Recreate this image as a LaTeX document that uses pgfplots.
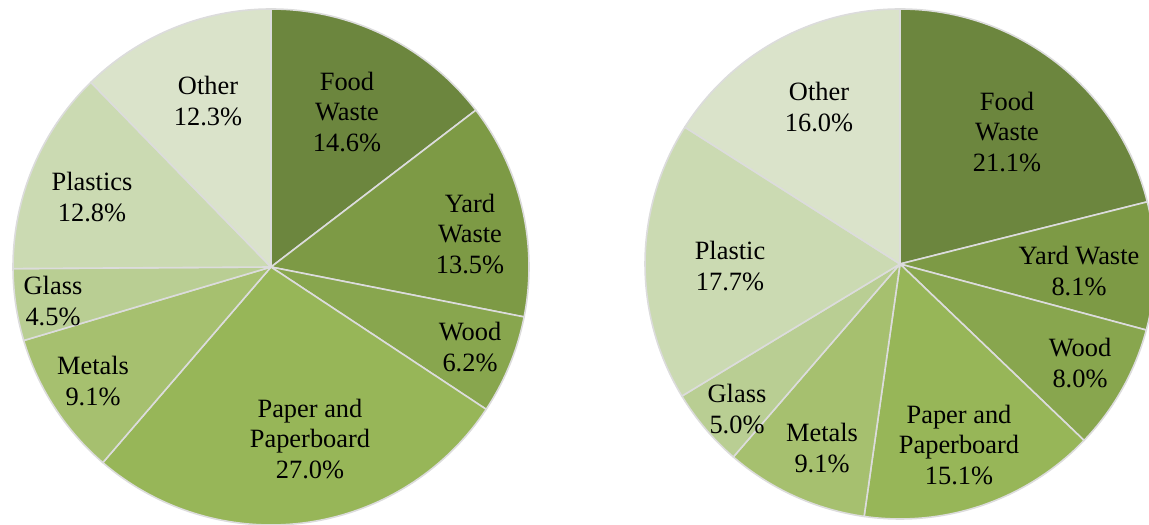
\documentclass[border=0pt]{standalone}
\usepackage{pgfplots}
\usepackage{pgfplotstable}
\pgfplotsset{compat=1.18}
\usepackage{fontspec}
\setmainfont{LiberationSerif}[Extension=.ttf, UprightFont=*-Regular, BoldFont=*-Bold]
\newfontfamily\lblfont{LiberationSerif}[Extension=.ttf, UprightFont=*-Regular]

\definecolor{cfood}{HTML}{6C863E}
\definecolor{cyard}{HTML}{7D9A45}
\definecolor{cwood}{HTML}{88A64E}
\definecolor{cpaper}{HTML}{97B658}
\definecolor{cmetal}{HTML}{A6C06F}
\definecolor{cglass}{HTML}{B9CE93}
\definecolor{cplast}{HTML}{CBDAB2}
\definecolor{cother}{HTML}{DAE3CA}
\definecolor{csep}{HTML}{DCDCDC}

% left pie
\pgfplotstableread{
value color
14.6 cfood
13.5 cyard
6.2  cwood
27.0 cpaper
9.1  cmetal
4.5  cglass
12.8 cplast
12.3 cother
}\leftdata
% right pie
\pgfplotstableread{
value color
21.1 cfood
8.1  cyard
8.0  cwood
15.1 cpaper
9.1  cmetal
5.0  cglass
17.7 cplast
16.0 cother
}\rightdata

% #1 table, #2 cx, #3 cy, #4 radius (bp)
\newcommand\drawpie[4]{%
  \pgfplotstablegetrowsof{#1}%
  \pgfmathtruncatemacro\nrows{\pgfplotsretval-1}%
  \def\pietot{0}%
  \pgfplotsforeachungrouped \i in {0,...,\nrows}{%
    \pgfplotstablegetelem{\i}{value}\of{#1}%
    \pgfmathsetmacro\pietot{\pietot+\pgfplotsretval}%
  }%
  \def\piecur{90}%
  \pgfplotsforeachungrouped \i in {0,...,\nrows}{%
    \pgfplotstablegetelem{\i}{value}\of{#1}%
    \let\pieval\pgfplotsretval
    \pgfplotstablegetelem{\i}{color}\of{#1}%
    \let\piecol\pgfplotsretval
    \pgfmathsetmacro\pieend{\piecur-360*\pieval/\pietot}%
    \filldraw[fill=\piecol, draw=csep, line width=1.6bp, line join=round]
      (axis cs:#2,#3) -- ++(\piecur:#4bp)
      arc[start angle=\piecur, end angle=\pieend, radius=#4bp] -- cycle;
    \let\piecur\pieend
  }%
}

\begin{document}
\begin{tikzpicture}
\begin{axis}[
  width=1149bp, height=525bp, scale only axis,
  xmin=0, xmax=1149, ymin=0, ymax=525,
  hide axis, clip=true,
]
\pgfplotsextra{%
  \drawpie{\leftdata}{271}{258}{258}%
  \drawpie{\rightdata}{900}{261}{255}%
}
\tikzset{lbl/.style={align=center, inner sep=0pt, font=\lblfont\fontsize{26.5}{30.5}\selectfont}}
% left labels
\node[lbl] at (axis cs:347,413) {Food\\Waste\\14.6\%};
\node[lbl] at (axis cs:208,424) {Other\\12.3\%};
\node[lbl] at (axis cs:470,291) {Yard\\Waste\\13.5\%};
\node[lbl] at (axis cs:470,178) {Wood\\6.2\%};
\node[lbl] at (axis cs:310,86) {Paper and\\Paperboard\\27.0\%};
\node[lbl] at (axis cs:93,144) {Metals\\9.1\%};
\node[lbl] at (axis cs:53,224) {Glass\\4.5\%};
\node[lbl] at (axis cs:92,328) {Plastics\\12.8\%};
% right labels
\node[lbl] at (axis cs:819,418) {Other\\16.0\%};
\node[lbl] at (axis cs:1007,393) {Food\\Waste\\21.1\%};
\node[lbl] at (axis cs:1079,254) {Yard Waste\\8.1\%};
\node[lbl] at (axis cs:1080,162) {Wood\\8.0\%};
\node[lbl] at (axis cs:959,80) {Paper and\\Paperboard\\15.1\%};
\node[lbl] at (axis cs:822,77) {Metals\\9.1\%};
\node[lbl] at (axis cs:737,116) {Glass\\5.0\%};
\node[lbl] at (axis cs:730,259) {Plastic\\17.7\%};
\end{axis}
\pgfresetboundingbox
\path[use as bounding box] (current axis.south west) rectangle (current axis.north east);
\end{tikzpicture}
\end{document}
